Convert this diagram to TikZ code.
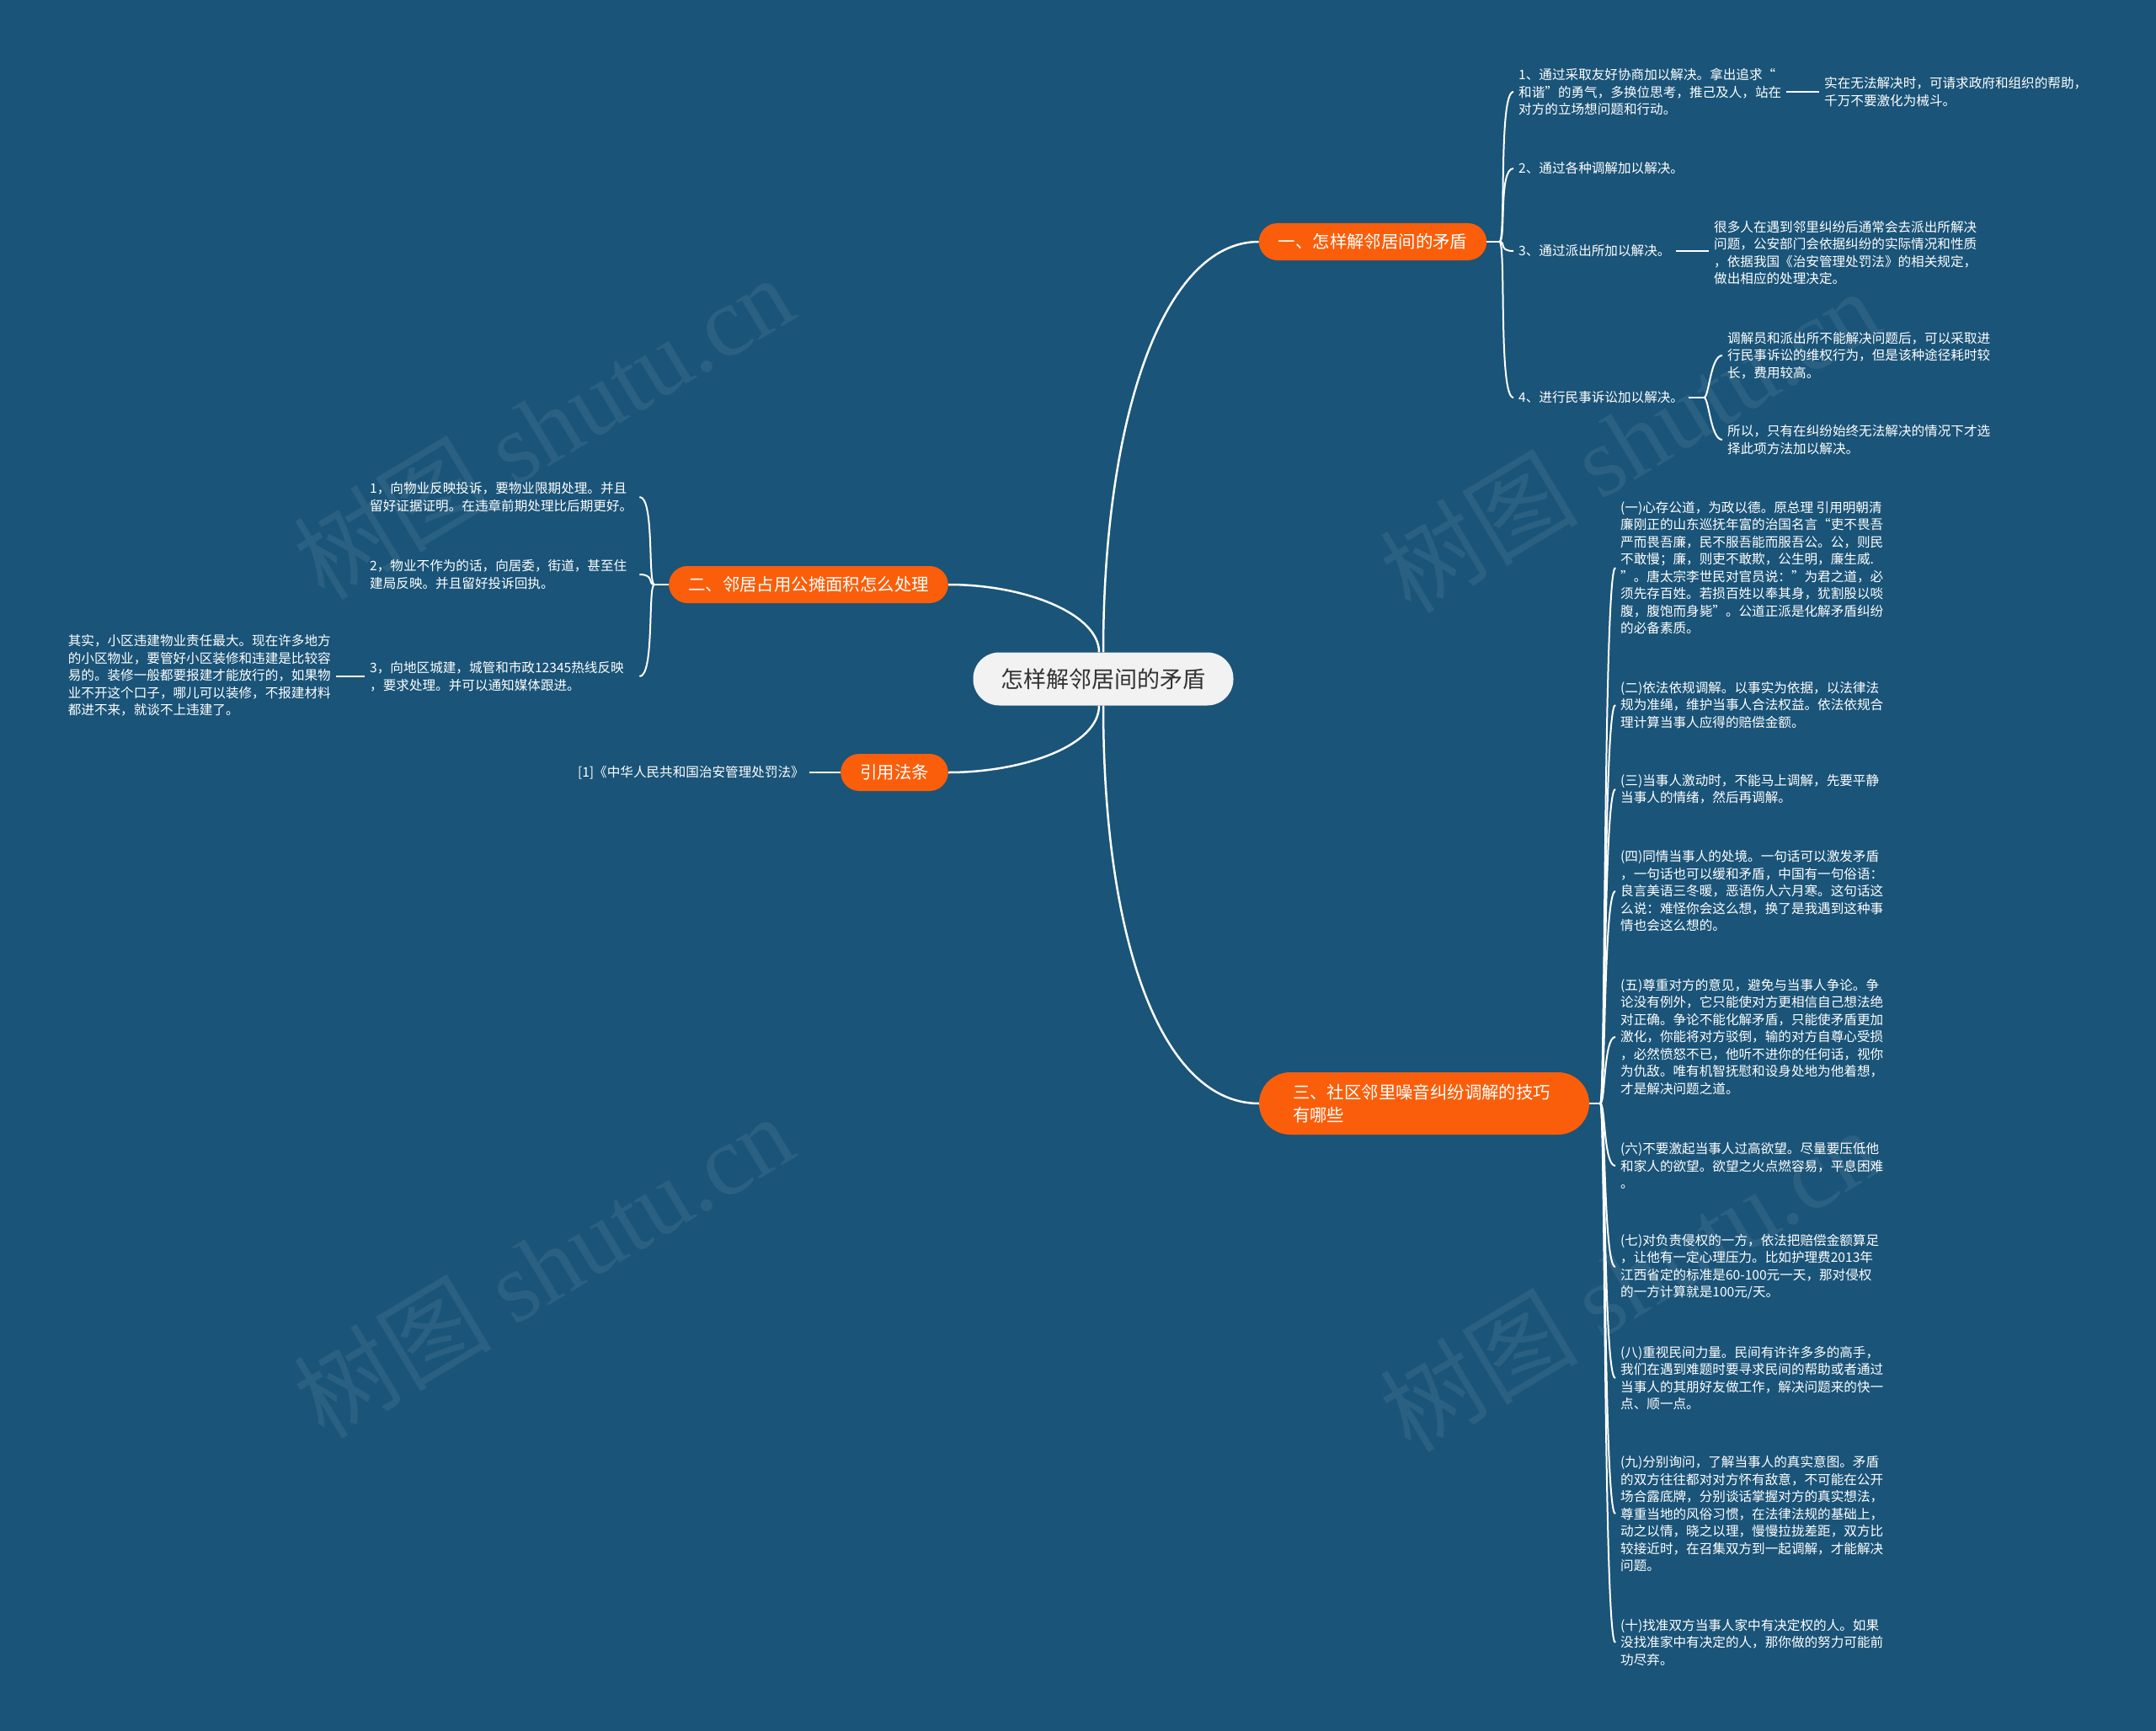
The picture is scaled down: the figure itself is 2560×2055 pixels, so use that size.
\documentclass[tikz,border=0pt]{standalone}
\usepackage{fontspec}
\setmainfont{Noto Sans CJK SC}
\newfontfamily\stamplatin{Liberation Serif}
\usepackage{xcolor}
\usepackage{tikz}
\usetikzlibrary{positioning}
\definecolor{deepsea}{RGB}{26,84,120}
\definecolor{flame}{RGB}{250,94,10}
\definecolor{pearl}{RGB}{242,242,242}
\definecolor{slate}{RGB}{51,51,51}

\begin{document}
\begin{tikzpicture}[x=1pt,y=-1pt,
  root/.style={fill=pearl,text=slate,rounded corners=31pt,minimum width=309pt,minimum height=63pt,font=\fontsize{27}{32}\selectfont},
  topic/.style={fill=flame,text=white,rounded corners=22pt,minimum height=44pt,inner xsep=23pt,font=\fontsize{20.4}{27}\selectfont},
  leaf/.style={text=white,align=left,inner xsep=6pt,inner ysep=2pt,font=\fontsize{15.6}{20.5}\selectfont},
  stamp/.style={text=white,text opacity=0.07,rotate=31,font=\fontsize{118}{120}\selectfont},
  trunk/.style={draw=white,line width=2.5pt},
  twig/.style={draw=white,line width=2pt}]
  \fill[deepsea] (0,0) rectangle (2560,2055);
  \useasboundingbox (0,0) rectangle (2560,2055);
  \foreach \wx/\wy in {645/506,645/1502,1935/522,1935/1518}
    \node[stamp] at (\wx,\wy) {树图 {\stamplatin shutu.cn}};

  % centre and main topics
  \node[root] (core) at (1310,806) {怎样解邻居间的矛盾};
  \node[topic] (t1) at (1630,287) {一、怎样解邻居间的矛盾};
  \node[topic] (t2) at (960,694) {二、邻居占用公摊面积怎么处理};
  \node[topic] (t4) at (1062,917) {引用法条};
  \node[topic,align=left,text width=312pt,inner xsep=40pt,minimum height=74pt,rounded corners=37pt] (t3) at (1691,1310) {三、社区邻里噪音纠纷调解的技巧\\有哪些};

  \draw[trunk] (core.north) .. controls (1310,500) and (1380,287) .. (t1.west);
  \draw[trunk] (core.south) .. controls (1310,1120) and (1380,1310) .. (t3.west);
  \draw[trunk] ([xshift=-5pt]core.north) .. controls (1305,730) and (1220,694) .. (t2.east);
  \draw[trunk] ([xshift=-5pt]core.south) .. controls (1305,885) and (1215,917) .. (t4.east);

  % topic one
  \node[leaf,anchor=west] (i1) at (1797,109) {1、通过采取友好协商加以解决。拿出追求“\\和谐”的勇气，多换位思考，推己及人，站在\\对方的立场想问题和行动。};
  \node[leaf,anchor=west] (i1c) at (2160,109) {实在无法解决时，可请求政府和组织的帮助，\\千万不要激化为械斗。};
  \node[leaf,anchor=west] (i2) at (1797,200) {2、通过各种调解加以解决。};
  \node[leaf,anchor=west] (i3) at (1797,298) {3、通过派出所加以解决。};
  \node[leaf,anchor=west] (i3c) at (2029,300) {很多人在遇到邻里纠纷后通常会去派出所解决\\问题，公安部门会依据纠纷的实际情况和性质\\，依据我国《治安管理处罚法》的相关规定，\\做出相应的处理决定。};
  \node[leaf,anchor=west] (i4) at (1797,472) {4、进行民事诉讼加以解决。};
  \node[leaf,anchor=west] (i4a) at (2045,422) {调解员和派出所不能解决问题后，可以采取进\\行民事诉讼的维权行为，但是该种途径耗时较\\长，费用较高。};
  \node[leaf,anchor=west] (i4b) at (2045,522) {所以，只有在纠纷始终无法解决的情况下才选\\择此项方法加以解决。};
  \coordinate[right=15pt of t1] (h1);
  \coordinate[right=18pt of i4] (h4);
  \draw[twig] (t1.east) -- (h1);
  \foreach \k in {i1,i2,i3,i4}
    \draw[twig] (h1) .. controls +(8,0) and +(-18,0) .. (\k.west);
  \draw[twig] (i1.east) -- (i1.east -| i1c.west);
  \draw[twig] (i3.east) -- (i3.east -| i3c.west);
  \draw[twig] (i4.east) -- (h4);
  \foreach \k in {i4a,i4b}
    \draw[twig] (h4) .. controls +(6,0) and +(-14,0) .. (\k.west);

  % topic two
  \node[leaf,anchor=west,text width=314pt] (l1) at (433,590) {1，向物业反映投诉，要物业限期处理。并且\\留好证据证明。在违章前期处理比后期更好。};
  \node[leaf,anchor=west,text width=314pt] (l2) at (433,682) {2，物业不作为的话，向居委，街道，甚至住\\建局反映。并且留好投诉回执。};
  \node[leaf,anchor=west,text width=314pt] (l3) at (433,803) {3，向地区城建，城管和市政12345热线反映\\，要求处理。并可以通知媒体跟进。};
  \node[leaf,anchor=east] (l3c) at (399,802) {其实，小区违建物业责任最大。现在许多地方\\的小区物业，要管好小区装修和违建是比较容\\易的。装修一般都要报建才能放行的，如果物\\业不开这个口子，哪儿可以装修，不报建材料\\都进不来，就谈不上违建了。};
  \coordinate[left=17pt of t2] (h2);
  \draw[twig] (t2.west) -- (h2);
  \foreach \k in {l1,l2,l3}
    \draw[twig] (h2) .. controls +(-8,0) and +(18,0) .. (\k.east);
  \draw[twig] (l3.west) -- (l3.west -| l3c.east);

  % citation
  \node[leaf,anchor=east] (cite) at (961,917) {[1]《中华人民共和国治安管理处罚法》};
  \draw[twig] (t4.west) -- (cite.east);

  % topic three
  \node[leaf,anchor=west] (s1) at (1918,674) {(一)心存公道，为政以德。原总理 引用明朝清\\廉刚正的山东巡抚年富的治国名言“吏不畏吾\\严而畏吾廉，民不服吾能而服吾公。公，则民\\不敢慢；廉，则吏不敢欺，公生明，廉生威.\\”。唐太宗李世民对官员说：”为君之道，必\\须先存百姓。若损百姓以奉其身，犹割股以啖\\腹，腹饱而身毙”。公道正派是化解矛盾纠纷\\的必备素质。};
  \node[leaf,anchor=west] (s2) at (1918,837) {(二)依法依规调解。以事实为依据，以法律法\\规为准绳，维护当事人合法权益。依法依规合\\理计算当事人应得的赔偿金额。};
  \node[leaf,anchor=west] (s3) at (1918,937) {(三)当事人激动时，不能马上调解，先要平静\\当事人的情绪，然后再调解。};
  \node[leaf,anchor=west] (s4) at (1918,1058) {(四)同情当事人的处境。一句话可以激发矛盾\\，一句话也可以缓和矛盾，中国有一句俗语：\\良言美语三冬暖，恶语伤人六月寒。这句话这\\么说：难怪你会这么想，换了是我遇到这种事\\情也会这么想的。};
  \node[leaf,anchor=west] (s5) at (1918,1231) {(五)尊重对方的意见，避免与当事人争论。争\\论没有例外，它只能使对方更相信自己想法绝\\对正确。争论不能化解矛盾，只能使矛盾更加\\激化，你能将对方驳倒，输的对方自尊心受损\\，必然愤怒不已，他听不进你的任何话，视你\\为仇敌。唯有机智抚慰和设身处地为他着想，\\才是解决问题之道。};
  \node[leaf,anchor=west] (s6) at (1918,1384) {(六)不要激起当事人过高欲望。尽量要压低他\\和家人的欲望。欲望之火点燃容易，平息困难\\。};
  \node[leaf,anchor=west] (s7) at (1918,1504) {(七)对负责侵权的一方，依法把赔偿金额算足\\，让他有一定心理压力。比如护理费2013年\\江西省定的标准是60-100元一天，那对侵权\\的一方计算就是100元/天。};
  \node[leaf,anchor=west] (s8) at (1918,1636) {(八)重视民间力量。民间有许许多多的高手，\\我们在遇到难题时要寻求民间的帮助或者通过\\当事人的其朋好友做工作，解决问题来的快一\\点、顺一点。};
  \node[leaf,anchor=west] (s9) at (1918,1797) {(九)分别询问，了解当事人的真实意图。矛盾\\的双方往往都对对方怀有敌意，不可能在公开\\场合露底牌，分别谈话掌握对方的真实想法，\\尊重当地的风俗习惯，在法律法规的基础上，\\动之以情，晓之以理，慢慢拉拢差距，双方比\\较接近时，在召集双方到一起调解，才能解决\\问题。};
  \node[leaf,anchor=west] (s10) at (1918,1950) {(十)找准双方当事人家中有决定权的人。如果\\没找准家中有决定的人，那你做的努力可能前\\功尽弃。};
  \coordinate[right=13pt of t3] (h3);
  \draw[twig] (t3.east) -- (h3);
  \foreach \k in {s1,s2,s3,s4,s5,s6,s7,s8,s9,s10}
    \draw[twig] (h3) .. controls +(6,0) and +(-14,0) .. (\k.west);
\end{tikzpicture}
\end{document}
